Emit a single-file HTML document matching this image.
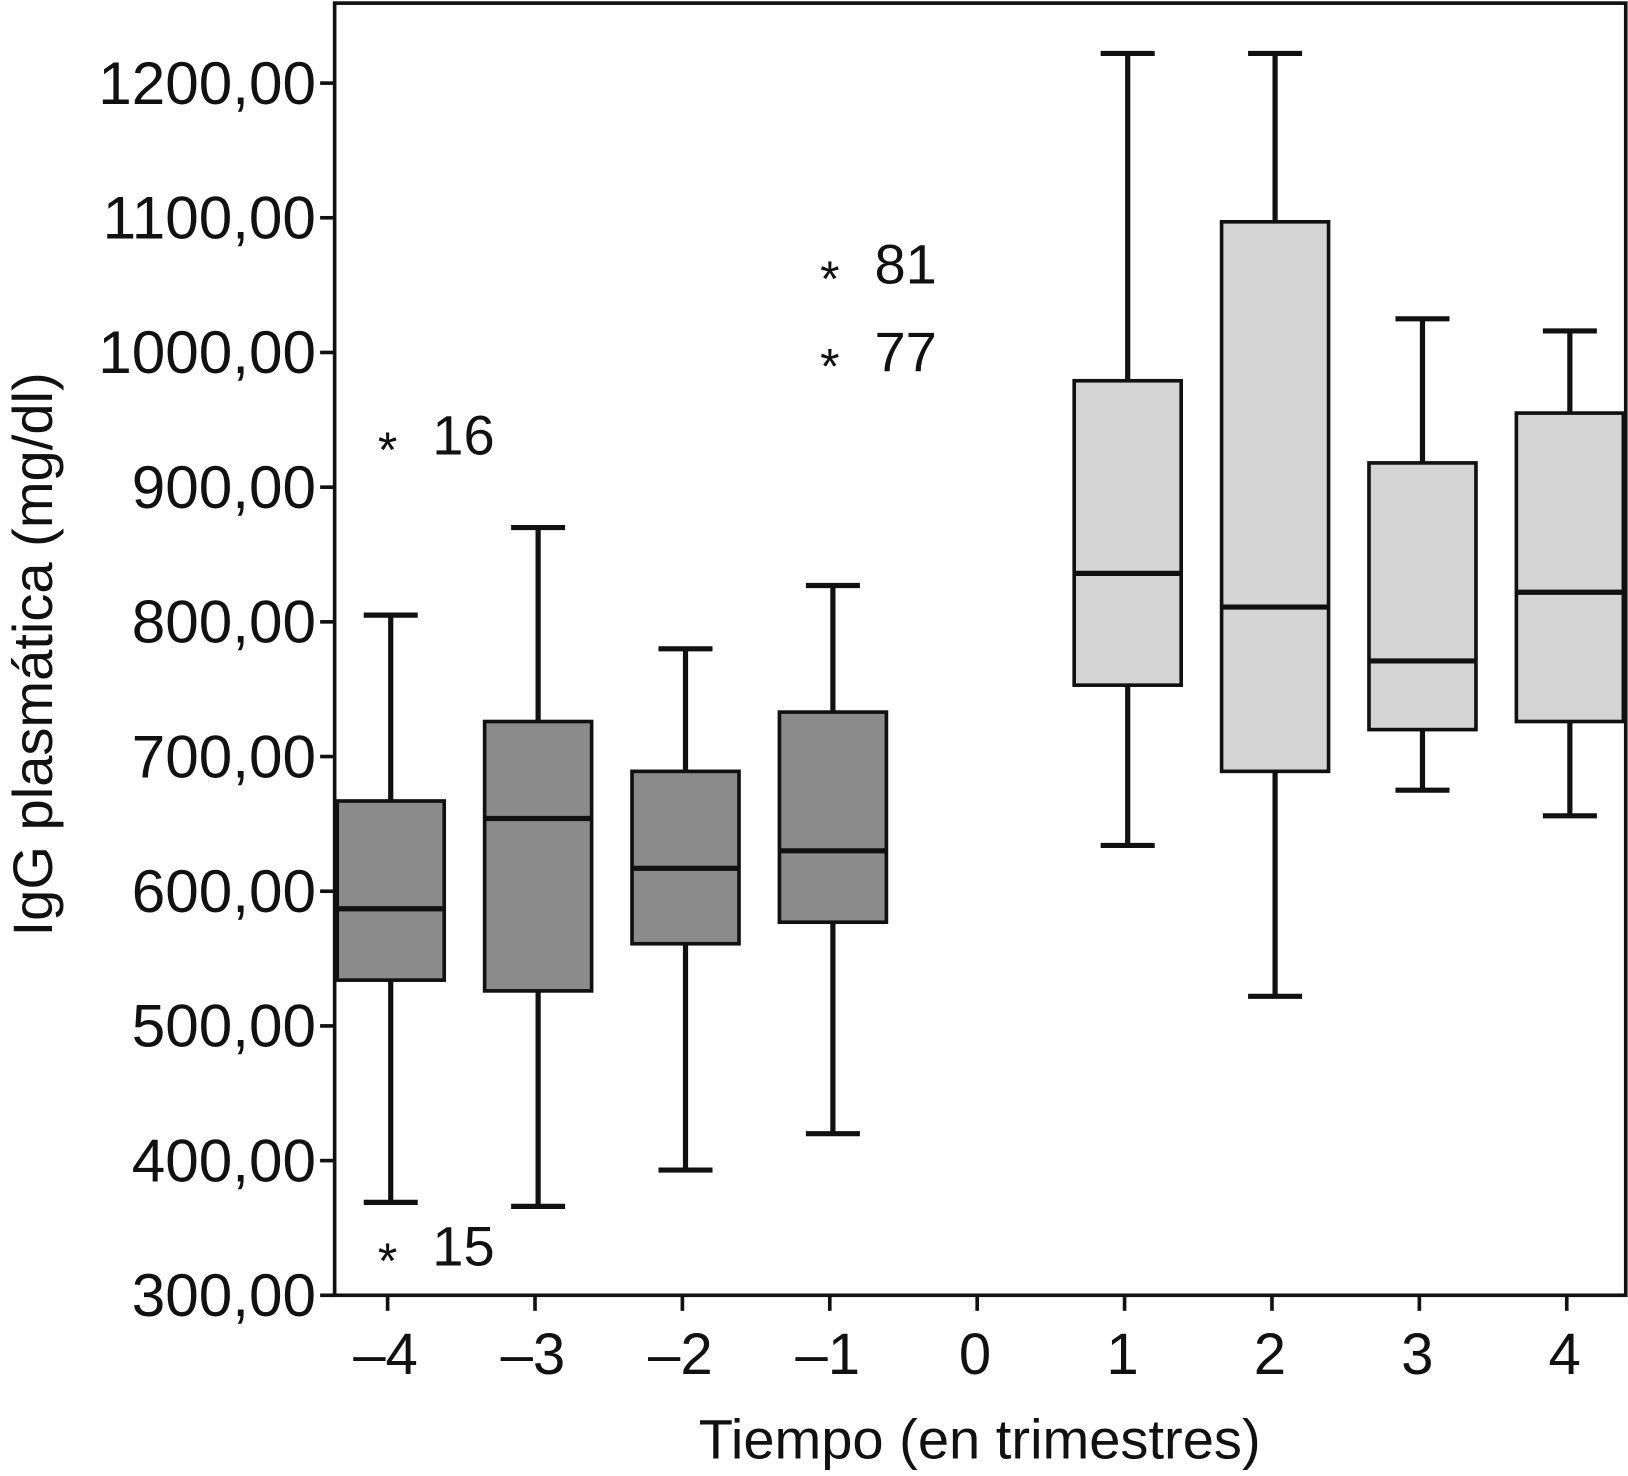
<!DOCTYPE html>
<html><head><meta charset="utf-8">
<style>
html,body{margin:0;padding:0;background:#fff;}
svg{display:block;}
text{font-family:"Liberation Sans",Arial,sans-serif;fill:#111;}
</style></head>
<body>
<svg id="chart" width="1628" height="1476" viewBox="0 0 1567 1421" xmlns="http://www.w3.org/2000/svg">
<rect x="0" y="0" width="1567" height="1421" fill="#fff"/>
<g id="plot"></g>
<text transform="translate(50,630) rotate(-90)" text-anchor="middle" font-size="54">IgG plasmática (mg/dl)</text>
<text x="943" y="1404" text-anchor="middle" font-size="54">Tiempo (en trimestres)</text>
</svg>
<script>
const categories = [-4, -3, -2, -1, 0, 1, 2, 3, 4];
const xLabels = ["\u20134", "\u20133", "\u20132", "\u20131", "0", "1", "2", "3", "4"];
const boxCats = [-4, -3, -2, -1, 1, 2, 3, 4];
const whiskerHigh = [805, 870, 780, 827, 1222, 1222, 1025, 1016];
const q3 = [667, 726, 689, 733, 979, 1097, 918, 955];
const medians = [587, 654, 617, 630, 836, 811, 771, 822];
const q1 = [534, 526, 561, 577, 753, 689, 720, 726];
const whiskerLow = [369, 366, 393, 420, 634, 522, 675, 656];
const groupFill = ["dark", "dark", "dark", "dark", "light", "light", "light", "light"];
const outlierCats = [-4, -4, -1, -1];
const outlierValues = [935, 333, 1062, 997];
const outlierLabels = ["16", "15", "81", "77"];
const yTicks = [300, 400, 500, 600, 700, 800, 900, 1000, 1100, 1200];
const yTickLabels = ["300,00", "400,00", "500,00", "600,00", "700,00", "800,00", "900,00", "1000,00", "1100,00", "1200,00"];

const L = 322, R = 1565, T = 3, B = 1247;
function yScale(v) { return 80 + (1200 - v) * 1.2967; }
function xScale(c) { return 373 + (c + 4) * 141.9; }
const NS = "http://www.w3.org/2000/svg";
const g = document.getElementById("plot");
function mk(tag, attrs) {
  const e = document.createElementNS(NS, tag);
  for (const k in attrs) e.setAttribute(k, attrs[k]);
  g.appendChild(e);
  return e;
}
const SW = 5, BW = 103, CAP = 26, OFF = 3;

for (let i = 0; i < boxCats.length; i++) {
  const cx = xScale(boxCats[i]) + OFF;
  const w1 = mk("line", {x1: cx, x2: cx, y1: yScale(whiskerHigh[i]), y2: yScale(q3[i]), stroke: "#111", "stroke-width": SW});
  
  
  const c1 = mk("line", {x1: cx - CAP, x2: cx + CAP, y1: yScale(whiskerHigh[i]), y2: yScale(whiskerHigh[i]), stroke: "#111", "stroke-width": SW});
  
  
  const w2 = mk("line", {x1: cx, x2: cx, y1: yScale(q1[i]), y2: yScale(whiskerLow[i]), stroke: "#111", "stroke-width": SW});
  
  
  const c2 = mk("line", {x1: cx - CAP, x2: cx + CAP, y1: yScale(whiskerLow[i]), y2: yScale(whiskerLow[i]), stroke: "#111", "stroke-width": SW});
  
  
  const bx = mk("rect", {x: cx - BW / 2, y: yScale(q3[i]), width: BW, height: yScale(q1[i]) - yScale(q3[i]), fill: groupFill[i] === "dark" ? "#8b8b8b" : "#d4d4d4", stroke: "#111", "stroke-width": 3.5});
  
  
  const md = mk("line", {x1: cx - BW / 2, x2: cx + BW / 2, y1: yScale(medians[i]), y2: yScale(medians[i]), stroke: "#111", "stroke-width": SW});
  
  
}

for (let i = 0; i < outlierCats.length; i++) {
  const cx = xScale(outlierCats[i]);
  const y = yScale(outlierValues[i]);
  const s = mk("text", {x: cx, y: y + 26, "text-anchor": "middle", "font-size": 48});
  s.textContent = "*";
  
  
  const t = mk("text", {x: cx + 43, y: y + 14, "font-size": 54});
  t.textContent = outlierLabels[i];
  
  
}

const frame = mk("rect", {x: L, y: T, width: R - L, height: B - T, fill: "none", stroke: "#111", "stroke-width": 3.5});



for (let i = 0; i < yTicks.length; i++) {
  const y = yScale(yTicks[i]);
  const tk = mk("line", {x1: L - 14, x2: L, y1: y, y2: y, stroke: "#111", "stroke-width": 3.5});
  
  
  const lb = mk("text", {x: L - 18, y: y + 20, "text-anchor": "end", "font-size": 58});
  lb.textContent = yTickLabels[i];
  
  
}
for (let i = 0; i < categories.length; i++) {
  const x = xScale(categories[i]);
  const tk = mk("line", {x1: x, x2: x, y1: B, y2: B + 15, stroke: "#111", "stroke-width": 3.5});
  
  
  const lb = mk("text", {x: x - 2, y: B + 76, "text-anchor": "middle", "font-size": 56});
  lb.textContent = xLabels[i];
  
  
}
</script>
</body></html>
